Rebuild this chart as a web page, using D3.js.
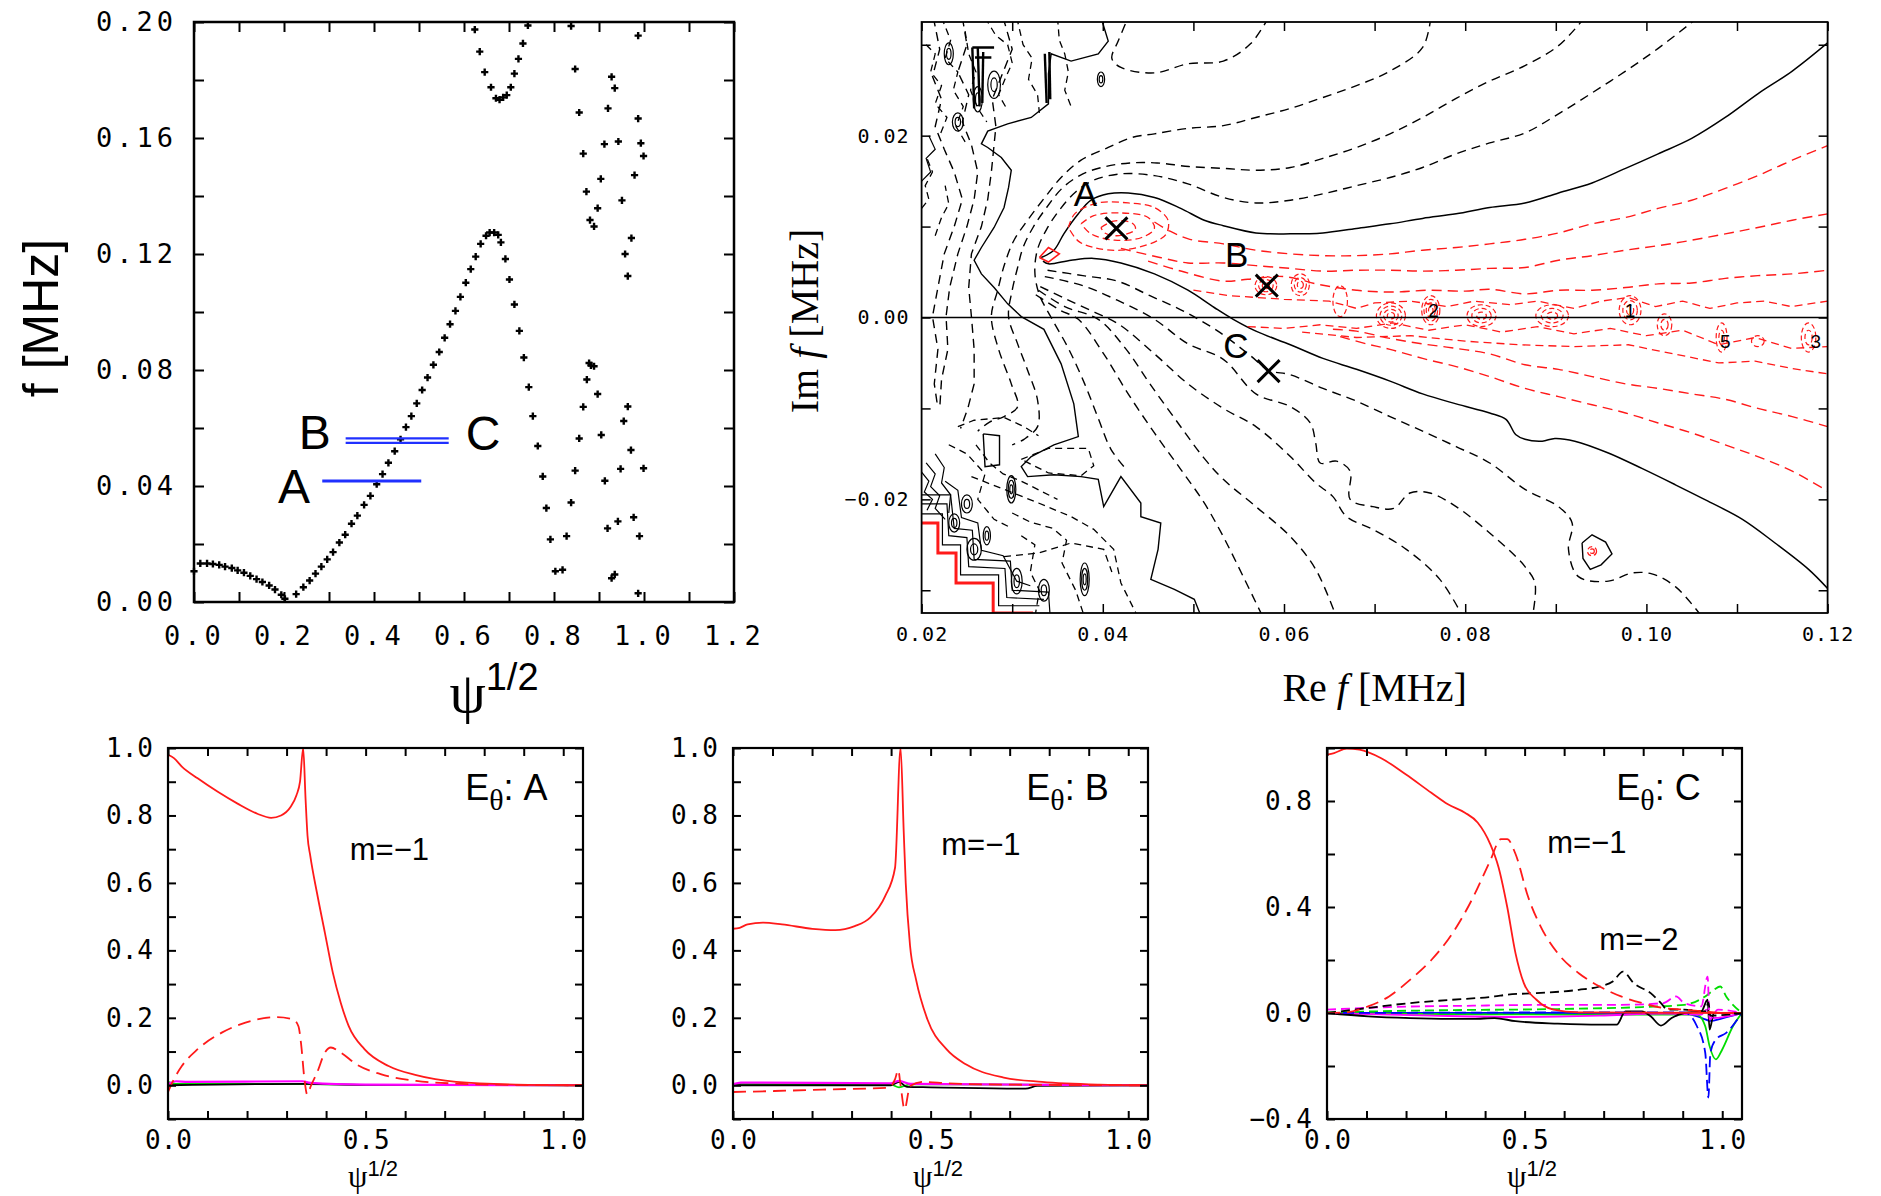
<!DOCTYPE html>
<html>
<head>
<meta charset="utf-8">
<title>Dispersion, complex-f contours and E_theta profiles</title>
<script src="https://cdn.jsdelivr.net/npm/d3@7"></script>
<style>
  body { margin: 0; background: #fff; }
  svg { display: block; }
</style>
</head>
<body>
<script>
// ---------- top left: continuum points, f [MHz] vs psi^(1/2) ----------
const mainPsi = [0, 0.014, 0.029, 0.042, 0.056, 0.069, 0.084, 0.097, 0.111, 0.125, 0.139, 0.152, 0.167, 0.180, 0.194, 0.202,
  0.227, 0.243, 0.257, 0.270, 0.283, 0.296, 0.309, 0.323, 0.336, 0.350, 0.363, 0.378, 0.392, 0.406, 0.419, 0.432, 0.446,
  0.459, 0.471, 0.483, 0.495, 0.507, 0.519, 0.532, 0.545, 0.557, 0.569, 0.581, 0.592, 0.604, 0.615, 0.626, 0.637, 0.649,
  0.657, 0.667, 0.676, 0.682, 0.692, 0.701, 0.712, 0.723, 0.733, 0.744, 0.753, 0.764, 0.775, 0.783, 0.792, 0.803];
const mainF = [0.0106, 0.0133, 0.0133, 0.0131, 0.0128, 0.0122, 0.0117, 0.0109, 0.0101, 0.0090, 0.0079, 0.0069, 0.0057, 0.0043, 0.0025, 0.0011,
  0.0027, 0.0051, 0.0074, 0.0098, 0.0122, 0.0147, 0.0172, 0.0205, 0.0232, 0.0270, 0.0298, 0.0335, 0.0366, 0.0406, 0.0441, 0.0480, 0.0520,
  0.0561, 0.0603, 0.0641, 0.0685, 0.0731, 0.0774, 0.0818, 0.0862, 0.0911, 0.0958, 0.1004, 0.1052, 0.1101, 0.1148, 0.1191, 0.1235, 0.1263,
  0.1274, 0.1274, 0.1266, 0.1240, 0.1183, 0.1112, 0.1026, 0.0935, 0.0843, 0.0741, 0.0641, 0.0538, 0.0433, 0.0324, 0.0216, 0.0106];
const upperPsi = [0.624, 0.635, 0.646, 0.660, 0.671, 0.679, 0.687, 0.695, 0.704, 0.712, 0.721, 0.731, 0.742];
const upperF = [0.1974, 0.1898, 0.1827, 0.1775, 0.1737, 0.1732, 0.1740, 0.1748, 0.1775, 0.1822, 0.1873, 0.1926, 0.1988];
const edgePsi = [0.838, 0.847, 0.856, 0.865, 0.872, 0.880, 0.889, 0.897, 0.904, 0.912, 0.920, 0.928, 0.935, 0.943, 0.951, 0.958,
  0.964, 0.972, 0.979, 0.987, 0.993, 0.999, 0.987,
  0.819, 0.828, 0.838, 0.847, 0.856, 0.865, 0.873, 0.878, 0.882, 0.889, 0.897, 0.905, 0.913, 0.919, 0.928, 0.935, 0.942,
  0.948, 0.955, 0.964, 0.971, 0.977, 0.990, 0.999, 0.987];
const edgeF = [0.1986, 0.1838, 0.1688, 0.1546, 0.1415, 0.1317, 0.1295, 0.1358, 0.1459, 0.1579, 0.1702, 0.1811, 0.1772, 0.1588, 0.1385, 0.1200,
  0.1124, 0.1255, 0.1472, 0.1667, 0.1582, 0.1538, 0.1953,
  0.0111, 0.0227, 0.0343, 0.0453, 0.0564, 0.0673, 0.0767, 0.0824, 0.0816, 0.0813, 0.0717, 0.0576, 0.0418, 0.0254, 0.0082, 0.0095, 0.0278,
  0.0459, 0.0624, 0.0674, 0.0524, 0.0292, 0.0227, 0.0461, 0.0030];
// frequencies of the three modes A, B, C and the extent of the blue bars
const modeNames = ['A', 'B', 'C'];
const modeFreq = [0.0417, 0.0564, 0.0549];
const modeFrom = [0.285, 0.337, 0.337];
const modeTo = [0.505, 0.566, 0.566];

// ---------- top right: contours in the complex f plane ([Re f, Im f] in MHz) ----------
const solidUpper = [[0.0332,0.0066],[0.0346,0.0074],[0.0357,0.0092],[0.0373,0.0114],[0.0387,0.0129],[0.0406,0.0136],[0.0428,0.0137],
  [0.0457,0.0132],[0.0486,0.0120],[0.0512,0.0107],[0.0533,0.0101],[0.0569,0.0093],[0.0607,0.0092],[0.0643,0.0093],[0.0680,0.0098],
  [0.0717,0.0103],[0.0753,0.0109],[0.0790,0.0114],[0.0827,0.0121],[0.0866,0.0126],[0.0903,0.0137],[0.0940,0.0148],[0.0977,0.0164],
  [0.1013,0.0180],[0.1050,0.0197],[0.1087,0.0220],[0.1123,0.0246],[0.1161,0.0271],[0.1200,0.0302]];
const solidLower = [[0.0334,0.0062],[0.0340,0.0059],[0.0365,0.0063],[0.0390,0.0065],[0.0420,0.0060],[0.0457,0.0048],[0.0494,0.0030],
  [0.0523,0.0011],[0.0544,-0.0002],[0.0569,-0.0015],[0.0607,-0.0030],[0.0643,-0.0045],[0.0680,-0.0057],[0.0717,-0.0070],[0.0753,-0.0084],
  [0.0790,-0.0095],[0.0827,-0.0105],[0.0845,-0.0112],[0.0856,-0.0129],[0.0866,-0.0134],[0.0885,-0.0136],[0.0899,-0.0133],[0.0921,-0.0136],
  [0.0958,-0.0149],[0.0995,-0.0166],[0.1032,-0.0184],[0.1068,-0.0202],[0.1106,-0.0222],[0.1142,-0.0248],[0.1179,-0.0277],[0.1200,-0.0298]];
const solidLeft = [[0.0398,0.0330],[0.0406,0.0304],[0.0395,0.0290],[0.0365,0.0282],[0.0343,0.0290],[0.0340,0.0268],[0.0340,0.0235],
  [0.0321,0.0220],[0.0295,0.0213],[0.0273,0.0205],[0.0266,0.0191],[0.0273,0.0187],[0.0288,0.0176],[0.0299,0.0162],[0.0296,0.0143],
  [0.0291,0.0121],[0.0280,0.0099],[0.0266,0.0077],[0.0258,0.0063],[0.0266,0.0048],[0.0280,0.0033],[0.0295,0.0015],[0.0310,0.0001],
  [0.0335,-0.0013],[0.0354,-0.0051],[0.0368,-0.0095],[0.0373,-0.0131],[0.0346,-0.0140],[0.0321,-0.0153],[0.0310,-0.0164],[0.0317,-0.0175],
  [0.0346,-0.0173],[0.0376,-0.0175],[0.0395,-0.0178],[0.0401,-0.0208],[0.0420,-0.0175],[0.0442,-0.0204],[0.0442,-0.0219],[0.0464,-0.0226],
  [0.0461,-0.0255],[0.0453,-0.0288],[0.0479,-0.0299],[0.0501,-0.0310],[0.0509,-0.0330]];
const solidBox = [[0.0268,-0.0128],[0.0286,-0.0130],[0.0286,-0.0162],[0.0270,-0.0164],[0.0268,-0.0128]];
const solidIsland = [[0.0929,-0.0248],[0.0940,-0.0239],[0.0955,-0.0247],[0.0962,-0.0260],[0.0950,-0.0272],[0.0938,-0.0277],[0.0930,-0.0265],[0.0929,-0.0248]];
const solidF = [[[0.0256,0.0297],[0.0258,0.0230]],[[0.0262,0.0297],[0.0264,0.0232]],[[0.0268,0.0292],[0.0267,0.0236]],
  [[0.0256,0.0297],[0.0280,0.0297]],[[0.0259,0.0286],[0.0277,0.0286]],[[0.0336,0.0290],[0.0338,0.0236]],[[0.0341,0.0292],[0.0342,0.0240]]];

const dashD = [[0.1057,0.0330],[0.1013,0.0296],[0.0977,0.0271],[0.0940,0.0247],[0.0903,0.0224],[0.0866,0.0203],[0.0827,0.0192],[0.0790,0.0180],
  [0.0753,0.0165],[0.0717,0.0154],[0.0680,0.0145],[0.0643,0.0136],[0.0607,0.0129],[0.0569,0.0126],[0.0533,0.0132],[0.0494,0.0147],
  [0.0457,0.0156],[0.0420,0.0158],[0.0390,0.0151],[0.0370,0.0138],[0.0352,0.0118],[0.0338,0.0097],[0.0328,0.0075],[0.0325,0.0050],
  [0.0330,0.0025],[0.0343,0.0000],[0.0362,-0.0034],[0.0380,-0.0073],[0.0395,-0.0111],[0.0409,-0.0145],[0.0425,-0.0166]];
const dashC = [[0.0932,0.0330],[0.0903,0.0299],[0.0866,0.0277],[0.0827,0.0260],[0.0790,0.0241],[0.0753,0.0220],[0.0717,0.0202],[0.0680,0.0187],
  [0.0643,0.0175],[0.0607,0.0165],[0.0569,0.0162],[0.0533,0.0164],[0.0495,0.0166],[0.0460,0.0170],[0.0430,0.0170],[0.0403,0.0166],
  [0.0378,0.0158],[0.0356,0.0143],[0.0338,0.0121],[0.0323,0.0099],[0.0312,0.0077],[0.0306,0.0055],[0.0300,0.0030],[0.0296,0.0001],
  [0.0306,-0.0029],[0.0317,-0.0058],[0.0328,-0.0091],[0.0328,-0.0120],[0.0313,-0.0134],[0.0300,-0.0140]];
const dashB = [[0.0762,0.0330],[0.0753,0.0297],[0.0717,0.0271],[0.0680,0.0255],[0.0643,0.0242],[0.0607,0.0230],[0.0569,0.0220],[0.0533,0.0211],
  [0.0494,0.0208],[0.0457,0.0202],[0.0432,0.0198],[0.0406,0.0187],[0.0376,0.0173],[0.0354,0.0154],[0.0336,0.0132],[0.0317,0.0107],
  [0.0302,0.0085],[0.0292,0.0060],[0.0284,0.0030],[0.0277,0.0001],[0.0285,-0.0035],[0.0299,-0.0073],[0.0306,-0.0098],[0.0291,-0.0109],
  [0.0275,-0.0115],[0.0262,-0.0125]];
const dashA = [[0.0583,0.0330],[0.0563,0.0301],[0.0533,0.0282],[0.0494,0.0279],[0.0457,0.0269],[0.0420,0.0275],[0.0410,0.0285],[0.0417,0.0304],[0.0428,0.0330]];
const dashL1 = [[0.0339,0.0052],[0.0378,0.0046],[0.0416,0.0040],[0.0452,0.0024],[0.0489,0.0007],[0.0527,-0.0015],[0.0563,-0.0042],[0.0583,-0.0058],
  [0.0607,-0.0063],[0.0643,-0.0078],[0.0680,-0.0092],[0.0717,-0.0109],[0.0753,-0.0125],[0.0790,-0.0142],[0.0827,-0.0160],[0.0866,-0.0189],
  [0.0903,-0.0208],[0.0918,-0.0226],[0.0914,-0.0255],[0.0925,-0.0285],[0.0958,-0.0290],[0.0984,-0.0281],[0.1006,-0.0282],[0.1032,-0.0296],[0.1062,-0.0330]];
const dashL2 = [[0.0336,0.0045],[0.0378,0.0035],[0.0416,0.0019],[0.0457,-0.0002],[0.0494,-0.0029],[0.0533,-0.0046],[0.0569,-0.0084],[0.0607,-0.0098],
  [0.0629,-0.0116],[0.0635,-0.0138],[0.0640,-0.0160],[0.0658,-0.0158],[0.0673,-0.0169],[0.0673,-0.0200],[0.0698,-0.0208],[0.0721,-0.0210],
  [0.0739,-0.0193],[0.0761,-0.0193],[0.0790,-0.0208],[0.0827,-0.0237],[0.0856,-0.0263],[0.0866,-0.0274],[0.0877,-0.0292],[0.0874,-0.0330]];
const dashL3 = [[0.0331,0.0034],[0.0358,0.0021],[0.0386,0.0008],[0.0417,-0.0007],[0.0457,-0.0040],[0.0494,-0.0073],[0.0533,-0.0100],[0.0569,-0.0120],
  [0.0607,-0.0153],[0.0635,-0.0182],[0.0654,-0.0197],[0.0669,-0.0219],[0.0698,-0.0233],[0.0735,-0.0255],[0.0772,-0.0288],[0.0798,-0.0330]];
const dashL4 = [[0.0329,0.0030],[0.0358,0.0012],[0.0395,-0.0002],[0.0425,-0.0034],[0.0452,-0.0073],[0.0483,-0.0116],[0.0512,-0.0155],[0.0533,-0.0178],
  [0.0569,-0.0208],[0.0607,-0.0241],[0.0635,-0.0277],[0.0658,-0.0330]];
const dashL5 = [[0.0326,0.0025],[0.0353,0.0008],[0.0373,-0.0002],[0.0401,-0.0040],[0.0428,-0.0084],[0.0457,-0.0127],[0.0486,-0.0167],[0.0512,-0.0204],
  [0.0533,-0.0241],[0.0555,-0.0285],[0.0577,-0.0330]];
const dashLeft1 = [[0.0213,0.0330],[0.0220,0.0295],[0.0212,0.0265],[0.0222,0.0240],[0.0215,0.0210],[0.0225,0.0185],[0.0236,0.0160],[0.0245,0.0130],
  [0.0236,0.0100],[0.0225,0.0070],[0.0218,0.0033],[0.0212,0.0001],[0.0218,-0.0035],[0.0214,-0.0073],[0.0218,-0.0100]];
const dashLeft2 = [[0.0245,0.0330],[0.0250,0.0300],[0.0240,0.0270],[0.0252,0.0245],[0.0245,0.0215],[0.0255,0.0190],[0.0262,0.0160],[0.0258,0.0130],
  [0.0250,0.0100],[0.0240,0.0070],[0.0231,0.0033],[0.0227,0.0001],[0.0229,-0.0035],[0.0222,-0.0068],[0.0220,-0.0100]];
const dashLeft3 = [[0.0290,0.0330],[0.0300,0.0295],[0.0288,0.0265],[0.0278,0.0240],[0.0282,0.0210],[0.0280,0.0190],[0.0277,0.0160],[0.0273,0.0130],
  [0.0266,0.0100],[0.0255,0.0070],[0.0252,0.0033],[0.0255,0.0001],[0.0258,-0.0035],[0.0258,-0.0073],[0.0251,-0.0100],[0.0243,-0.0122]];
const dashClutter = [
  [[0.0205,0.0300],[0.0215,0.0290],[0.0210,0.0270],[0.0222,0.0255],[0.0215,0.0235],[0.0228,0.0220],[0.0220,0.0200]],
  [[0.0222,0.0330],[0.0232,0.0305],[0.0226,0.0285],[0.0240,0.0270],[0.0235,0.0250],[0.0246,0.0232],[0.0238,0.0210],[0.0250,0.0190]],
  [[0.0248,0.0315],[0.0252,0.0290],[0.0260,0.0270],[0.0254,0.0250],[0.0262,0.0230],[0.0272,0.0215]],
  [[0.0270,0.0330],[0.0282,0.0310],[0.0295,0.0300],[0.0300,0.0280],[0.0292,0.0262],[0.0285,0.0245],[0.0295,0.0228]],
  [[0.0305,0.0330],[0.0312,0.0300],[0.0322,0.0285],[0.0318,0.0262],[0.0328,0.0245],[0.0330,0.0225]],
  [[0.0350,0.0330],[0.0352,0.0305],[0.0358,0.0290],[0.0362,0.0270],[0.0358,0.0250],[0.0365,0.0232]],
  [[0.0200,0.0120],[0.0208,0.0130],[0.0204,0.0145],[0.0212,0.0160],[0.0206,0.0175]],
  [[0.0215,0.0090],[0.0222,0.0110],[0.0230,0.0125],[0.0226,0.0145]],
  [[0.0310,-0.0156],[0.0340,-0.0144],[0.0384,-0.0144],[0.0390,-0.0163],[0.0376,-0.0174],[0.0340,-0.0171],[0.0310,-0.0156]],
  [[0.0255,-0.0175],[0.0291,-0.0189],[0.0329,-0.0204],[0.0365,-0.0219],[0.0390,-0.0233],[0.0412,-0.0255],[0.0420,-0.0292],[0.0439,-0.0330]],
  [[0.0291,-0.0263],[0.0329,-0.0259],[0.0365,-0.0248],[0.0401,-0.0255],[0.0410,-0.0280]],
  [[0.0240,-0.0120],[0.0258,-0.0113],[0.0291,-0.0110],[0.0313,-0.0120],[0.0329,-0.0130]],
  [[0.0230,-0.0140],[0.0250,-0.0150],[0.0270,-0.0172],[0.0262,-0.0200],[0.0280,-0.0222],[0.0300,-0.0232]],
  [[0.0260,-0.0140],[0.0275,-0.0160],[0.0290,-0.0172],[0.0310,-0.0180],[0.0330,-0.0190],[0.0350,-0.0200]],
  [[0.0300,-0.0215],[0.0320,-0.0225],[0.0345,-0.0232],[0.0360,-0.0245],[0.0355,-0.0270],[0.0370,-0.0300],[0.0380,-0.0330]],
  [[0.0310,-0.0240],[0.0325,-0.0250],[0.0320,-0.0280],[0.0330,-0.0300],[0.0325,-0.0330]]];
const solidClutter = [
  [[0.0200,-0.0216],[0.0223,-0.0216],[0.0223,-0.0250],[0.0243,-0.0250],[0.0243,-0.0283],[0.0285,-0.0283],[0.0285,-0.0317],[0.0330,-0.0317]],
  [[0.0200,-0.0205],[0.0228,-0.0205],[0.0230,-0.0240],[0.0250,-0.0242],[0.0252,-0.0274],[0.0292,-0.0276],[0.0294,-0.0308],[0.0335,-0.0310]],
  [[0.0200,-0.0195],[0.0232,-0.0195],[0.0236,-0.0232],[0.0256,-0.0234],[0.0258,-0.0266],[0.0298,-0.0268],[0.0300,-0.0300],[0.0340,-0.0302],[0.0342,-0.0330]],
  [[0.0226,-0.0180],[0.0240,-0.0190],[0.0244,-0.0220],[0.0262,-0.0226],[0.0266,-0.0256],[0.0290,-0.0262],[0.0305,-0.0290],[0.0320,-0.0295]],
  [[0.0200,-0.0170],[0.0208,-0.0180],[0.0203,-0.0192],[0.0212,-0.0200],[0.0206,-0.0212]],
  [[0.0205,-0.0160],[0.0215,-0.0172],[0.0210,-0.0186],[0.0220,-0.0196],[0.0215,-0.0210],[0.0226,-0.0222]],
  [[0.0215,-0.0150],[0.0225,-0.0165],[0.0222,-0.0182],[0.0232,-0.0195],[0.0230,-0.0215]],
  [[0.0200,0.0150],[0.0210,0.0160],[0.0205,0.0175],[0.0215,0.0185],[0.0208,0.0200]]];
// small closed islands: [Re centre, Im centre, Re half-width, Im half-height, rings]
const blackIslands = [[0.0299,-0.0189,0.0005,0.0015,3],[0.0380,-0.0288,0.0005,0.0018,3],[0.0258,-0.0255,0.0008,0.0012,2],
  [0.0236,-0.0226,0.0006,0.0010,2],[0.0250,-0.0205,0.0006,0.0010,2],[0.0280,0.0256,0.0007,0.0015,2],[0.0398,0.0262,0.0004,0.0008,2],
  [0.0335,-0.0300,0.0006,0.0012,2],[0.0262,0.0240,0.0005,0.0014,2],[0.0305,-0.0290,0.0006,0.0014,2],[0.0272,-0.0240,0.0004,0.0010,2],
  [0.0240,0.0215,0.0006,0.0010,2],[0.0230,0.0290,0.0005,0.0012,2]];

const redUpper1 = [[0.0457,0.0105],[0.0474,0.0095],[0.0496,0.0086],[0.0533,0.0081],[0.0569,0.0074],[0.0607,0.0070],[0.0643,0.0068],[0.0680,0.0068],
  [0.0717,0.0070],[0.0753,0.0074],[0.0790,0.0077],[0.0827,0.0081],[0.0866,0.0086],[0.0903,0.0093],[0.0940,0.0103],[0.0977,0.0110],
  [0.1013,0.0120],[0.1050,0.0129],[0.1087,0.0142],[0.1123,0.0156],[0.1161,0.0173],[0.1200,0.0189]];
const redUpper2 = [[0.0420,0.0076],[0.0463,0.0066],[0.0494,0.0060],[0.0533,0.0060],[0.0569,0.0057],[0.0607,0.0054],[0.0643,0.0051],[0.0680,0.0052],
  [0.0717,0.0052],[0.0753,0.0051],[0.0790,0.0052],[0.0827,0.0054],[0.0866,0.0055],[0.0903,0.0063],[0.0940,0.0068],[0.0977,0.0074],
  [0.1013,0.0079],[0.1050,0.0085],[0.1087,0.0092],[0.1123,0.0099],[0.1161,0.0107],[0.1200,0.0114]];
const redUpper3 = [[0.0450,0.0062],[0.0490,0.0050],[0.0533,0.0040],[0.0560,0.0042],[0.0600,0.0045],[0.0640,0.0036],[0.0680,0.0030],[0.0720,0.0028],
  [0.0760,0.0030],[0.0800,0.0029],[0.0827,0.0031],[0.0866,0.0026],[0.0903,0.0030],[0.0940,0.0030],[0.0977,0.0033],[0.1013,0.0037],
  [0.1050,0.0038],[0.1087,0.0043],[0.1123,0.0046],[0.1161,0.0048],[0.1200,0.0052]];
const redNearAxis1 = [[0.0500,0.0030],[0.0540,0.0024],[0.0600,0.0020],[0.0650,0.0018],[0.0680,0.0010],[0.0700,0.0016],[0.0740,0.0018],[0.0780,0.0012],
  [0.0810,0.0018],[0.0850,0.0014],[0.0880,0.0018],[0.0920,0.0010],[0.0950,0.0018],[0.0980,0.0022],[0.1010,0.0012],[0.1040,0.0018],
  [0.1070,0.0010],[0.1100,0.0016],[0.1130,0.0018],[0.1160,0.0012],[0.1200,0.0018]];
const redNearAxis2 = [[0.0560,-0.0010],[0.0600,-0.0012],[0.0640,-0.0008],[0.0680,-0.0012],[0.0720,-0.0006],[0.0760,-0.0014],[0.0800,-0.0008],
  [0.0840,-0.0016],[0.0880,-0.0010],[0.0920,-0.0018],[0.0960,-0.0012],[0.1000,-0.0020],[0.1040,-0.0014],[0.1080,-0.0030],[0.1120,-0.0022],
  [0.1160,-0.0034],[0.1200,-0.0032]];
const redNearAxis3 = [[0.0620,-0.0016],[0.0680,-0.0022],[0.0740,-0.0020],[0.0800,-0.0026],[0.0860,-0.0030],[0.0920,-0.0032],[0.0980,-0.0030],
  [0.1040,-0.0042],[0.1080,-0.0050],[0.1120,-0.0048],[0.1160,-0.0056],[0.1200,-0.0062]];
const redLower1 = [[0.0654,-0.0013],[0.0680,-0.0015],[0.0717,-0.0023],[0.0753,-0.0029],[0.0790,-0.0034],[0.0827,-0.0040],[0.0866,-0.0052],
  [0.0903,-0.0057],[0.0940,-0.0065],[0.0977,-0.0073],[0.1013,-0.0078],[0.1050,-0.0084],[0.1087,-0.0090],[0.1123,-0.0100],[0.1161,-0.0109],[0.1200,-0.0120]];
const redLower2 = [[0.0662,-0.0021],[0.0691,-0.0029],[0.0717,-0.0035],[0.0753,-0.0045],[0.0790,-0.0054],[0.0827,-0.0065],[0.0866,-0.0078],
  [0.0903,-0.0087],[0.0940,-0.0096],[0.0977,-0.0105],[0.1013,-0.0116],[0.1050,-0.0127],[0.1087,-0.0140],[0.1123,-0.0153],[0.1161,-0.0169],[0.1200,-0.0191]];
const redLobeOuter = [[0.0362,0.0099],[0.0369,0.0114],[0.0395,0.0126],[0.0428,0.0126],[0.0457,0.0121],[0.0472,0.0107],[0.0470,0.0092],
  [0.0457,0.0083],[0.0420,0.0074],[0.0390,0.0077],[0.0373,0.0084],[0.0362,0.0099]];
const redLobeMiddle = [[0.0376,0.0103],[0.0390,0.0112],[0.0420,0.0115],[0.0450,0.0110],[0.0457,0.0098],[0.0443,0.0088],[0.0413,0.0085],
  [0.0387,0.0092],[0.0376,0.0103]];
const redLobeInner = [[0.0398,0.0099],[0.0412,0.0106],[0.0432,0.0104],[0.0436,0.0097],[0.0418,0.0090],[0.0402,0.0093],[0.0398,0.0099]];
const redTip = [[0.0330,0.0066],[0.0340,0.0077],[0.0352,0.0070],[0.0340,0.0061],[0.0330,0.0066]];
const redStair = [[0.0200,-0.0226],[0.0218,-0.0226],[0.0218,-0.0259],[0.0238,-0.0259],[0.0238,-0.0292],[0.0279,-0.0292],[0.0279,-0.0325],[0.0323,-0.0325]];
const redIslands = [[0.0580,0.0035,0.0012,0.0010,3],[0.0618,0.0036,0.0010,0.0012,3],[0.0662,0.0018,0.0008,0.0017,1],[0.0718,0.0002,0.0016,0.0014,4],
  [0.0762,0.0008,0.0010,0.0016,4],[0.0818,0.0002,0.0016,0.0012,3],[0.0896,0.0002,0.0018,0.0012,3],[0.0982,0.0008,0.0012,0.0016,3],
  [0.1020,-0.0008,0.0008,0.0012,2],[0.1083,-0.0022,0.0006,0.0016,2],[0.1123,-0.0026,0.0007,0.0006,1],[0.1179,-0.0022,0.0008,0.0016,2],
  [0.0940,-0.0257,0.0005,0.0005,2]];
const levelTags = ['2', '1', '5', '3'];
const levelTagRe = [0.0765, 0.0982, 0.1087, 0.1187];
const levelTagIm = [0.0001, 0.0001, -0.0034, -0.0034];
const crossRe = [0.0415, 0.0581, 0.0583];
const crossIm = [0.0098, 0.0035, -0.0059];

// ---------- bottom: E_theta profiles, [psi^(1/2), amplitude] ----------
const aRedSolid = [[0,0.98],[0.015,0.97],[0.035,0.945],[0.075,0.91],[0.126,0.87],[0.176,0.835],[0.226,0.805],[0.261,0.793],[0.286,0.80],
  [0.31,0.825],[0.325,0.86],[0.334,0.9],[0.342,1.0],[0.348,0.85],[0.353,0.74],[0.36,0.68],[0.377,0.57],[0.397,0.452],[0.417,0.334],
  [0.437,0.245],[0.457,0.176],[0.497,0.107],[0.558,0.057],[0.628,0.030],[0.729,0.010],[0.88,0.002],[1.05,0]];
const aRedDash = [[0,-0.02],[0.015,0.018],[0.035,0.057],[0.075,0.107],[0.136,0.156],[0.196,0.186],[0.276,0.202],[0.317,0.195],[0.33,0.175],
  [0.337,0.12],[0.345,0.02],[0.352,-0.027],[0.362,0.0],[0.377,0.037],[0.397,0.097],[0.412,0.112],[0.437,0.097],[0.477,0.062],[0.538,0.033],
  [0.628,0.013],[0.729,0.005],[0.88,0.001],[1.05,0]];
const aMagenta = [[0,0.004],[0.02,0.012],[0.05,0.01],[0.34,0.012],[0.36,0.007],[0.5,0.002],[1.05,0]];
const aGreen = [[0,0.01],[0.02,0.004],[0.3,0.004],[0.5,0.001],[1.05,0]];
const aBlack = [[0,0],[0.35,0.004],[0.5,0.001],[1.05,0]];

const bRedSolid = [[0,0.464],[0.017,0.467],[0.037,0.477],[0.076,0.482],[0.124,0.477],[0.201,0.464],[0.259,0.46],[0.308,0.472],[0.347,0.497],
  [0.385,0.561],[0.41,0.645],[0.424,1.0],[0.432,0.75],[0.437,0.6],[0.448,0.413],[0.463,0.314],[0.492,0.195],[0.54,0.107],[0.589,0.062],
  [0.685,0.023],[0.782,0.01],[0.927,0.002],[1.05,0]];
const bRedDash = [[0,-0.02],[0.105,-0.017],[0.25,-0.012],[0.395,-0.007],[0.41,0.018],[0.418,0.045],[0.424,0.0],[0.434,-0.071],[0.448,-0.002],
  [0.482,0.01],[0.54,0.006],[0.685,0.002],[1.05,0]];
const bBlack = [[0,0],[0.4,0],[0.42,0.01],[0.44,-0.005],[0.5,-0.006],[0.74,-0.01],[0.77,-0.002],[1.05,0]];
const bMagenta = [[0,0.003],[0.02,0.008],[0.4,0.006],[0.42,0.013],[0.45,0.004],[1.05,0]];
const bGreen = [[0,0.004],[0.4,0.002],[0.42,-0.006],[0.45,0.003],[1.05,0]];

const cRedSolid = [[0,0.975],[0.018,0.981],[0.05,0.998],[0.082,0.994],[0.136,0.9625],[0.2,0.9],[0.264,0.831],[0.306,0.7875],[0.349,0.756],
  [0.381,0.719],[0.413,0.6375],[0.434,0.55],[0.456,0.4],[0.477,0.225],[0.498,0.1125],[0.53,0.05],[0.573,0.0125],[0.637,0.0025],[1.05,0]];
const cRedDash = [[0,0],[0.05,0.0025],[0.104,0.025],[0.157,0.0625],[0.21,0.125],[0.264,0.2],[0.317,0.3],[0.37,0.4375],[0.413,0.575],[0.44,0.656],
  [0.456,0.656],[0.477,0.6],[0.509,0.4375],[0.541,0.325],[0.584,0.225],[0.637,0.15],[0.69,0.1],[0.744,0.0625],[0.797,0.0375],[0.851,0.019],
  [0.904,0.0125],[0.957,0.006],[1.0,0],[1.05,0]];
const cBlackDash = [[0,0],[0.104,0.019],[0.21,0.0375],[0.317,0.05],[0.424,0.0625],[0.456,0.069],[0.53,0.075],[0.637,0.0875],[0.69,0.1],
  [0.723,0.119],[0.749,0.156],[0.776,0.1125],[0.819,0.075],[0.845,0.0375],[0.861,0.0125],[0.904,0.0125],[0.957,0.006],[0.965,0.04],[0.97,-0.01],[1.05,0]];
const cBlackSolid = [[0,0],[0.104,-0.0125],[0.21,-0.019],[0.37,-0.0225],[0.424,-0.019],[0.477,-0.031],[0.584,-0.04],[0.69,-0.044],[0.733,-0.044],
  [0.755,0.006],[0.797,0.006],[0.819,-0.0125],[0.845,-0.0475],[0.872,-0.019],[0.904,0],[0.947,0.006],[0.963,0.05],[0.968,-0.0625],[0.979,0],[1.05,0]];
const cMagentaDash = [[0,0.0125],[0.157,0.0225],[0.37,0.0275],[0.584,0.031],[0.744,0.031],[0.851,0.0375],[0.883,0.0625],[0.904,0.0375],
  [0.947,0.025],[0.963,0.1375],[0.968,-0.025],[0.989,0.0125],[1.05,0]];
const cMagentaSolid = [[0,0],[0.264,-0.01],[0.477,-0.015],[0.69,-0.01],[0.851,-0.0025],[0.947,-0.006],[0.96,0.0125],[0.975,-0.019],[1.05,0]];
const cGreenDash = [[0,0.0025],[0.264,0.01],[0.584,0.015],[0.797,0.0225],[0.904,0.031],[0.957,0.0625],[0.979,0.0875],[0.995,0.1],[1.01,0.0625],[1.05,0]];
const cGreenSolid = [[0,0],[0.37,-0.005],[0.797,-0.006],[0.936,-0.006],[0.957,-0.05],[0.968,-0.125],[0.984,-0.175],[1.0,-0.1375],[1.027,-0.05],[1.05,0]];
const cBlueDash = [[0,0],[0.904,0.0025],[0.936,-0.05],[0.957,-0.15],[0.965,-0.319],[0.97,-0.15],[0.984,-0.1],[1.01,-0.075],[1.05,0]];
const cBlueSolid = [[0,0],[0.9,0],[0.95,-0.02],[0.97,-0.03],[1.0,-0.02],[1.05,0]];

// ================= drawing =================
const MONO = '"DejaVu Sans Mono", monospace';
const SANS = '"Liberation Sans", Arial, sans-serif';
const SERIF = '"Liberation Serif", "Times New Roman", serif';
const RED = '#ff1a1a';

const svg = d3.select('body').append('svg').attr('width', 1881).attr('height', 1196);

function near(a, b) { return Math.abs(a - b) < 1e-9; }
function steps(a, b, s) { return d3.range(Math.round((b - a) / s) + 1).map(i => +(a + i * s).toFixed(6)); }

// frame with inward ticks on all four sides, labels only on bottom/left
function axes(g, x, y, o) {
  const w = x.range()[1], h = y.range()[0];
  const fx = d => o.xLab.some(v => near(v, d)) ? o.xFmt(d) : '';
  const fy = d => o.yLab.some(v => near(v, d)) ? o.yFmt(d) : '';
  const parts = [
    g.append('g').attr('transform', `translate(0,${h})`)
      .call(d3.axisBottom(x).tickValues(o.xTicks).tickSize(-o.tl).tickPadding(o.xPad).tickFormat(fx)),
    g.append('g').call(d3.axisTop(x).tickValues(o.xTicks).tickSize(-o.tl).tickFormat('')),
    g.append('g').call(d3.axisLeft(y).tickValues(o.yTicks).tickSize(-o.tl).tickPadding(o.yPad).tickFormat(fy)),
    g.append('g').attr('transform', `translate(${w},0)`)
      .call(d3.axisRight(y).tickValues(o.yTicks).tickSize(-o.tl).tickFormat(''))
  ];
  parts.forEach(a => {
    a.select('.domain').remove();
    a.selectAll('line').attr('stroke', '#000').attr('stroke-width', o.tw);
    a.selectAll('text').attr('fill', '#000')
      .style('font-family', MONO).style('font-size', o.fs + 'px').style('letter-spacing', (o.ls || 0) + 'px');
  });
  g.append('rect').attr('width', w).attr('height', h)
    .attr('fill', 'none').attr('stroke', '#000').attr('stroke-width', o.fw);
}

function psiLabel(g, cx, baseY, big, small, lift) {
  const t = g.append('text').attr('x', cx).attr('y', baseY).attr('text-anchor', 'middle').attr('fill', '#000');
  t.append('tspan').style('font-family', SERIF).style('font-size', big + 'px').text('\u03c8');
  t.append('tspan').style('font-family', SANS).style('font-size', small + 'px').attr('dy', -lift).text('1/2');
}

// ---------- top left ----------
{
  const g = svg.append('g').attr('transform', 'translate(194,22)');
  const x = d3.scaleLinear([0, 1.2], [0, 540]);
  const y = d3.scaleLinear([0, 0.2], [580, 0]);
  axes(g, x, y, { xTicks: steps(0, 1.2, 0.1), xLab: steps(0, 1.2, 0.2), xFmt: d3.format('.1f'),
    yTicks: steps(0, 0.2, 0.02), yLab: steps(0, 0.2, 0.04), yFmt: d3.format('.2f'),
    tl: 10, tw: 2, fw: 2.5, fs: 27, ls: 4, xPad: 24, yPad: 17 });

  const pts = [...d3.zip(mainPsi, mainF), ...d3.zip(upperPsi, upperF), ...d3.zip(edgePsi, edgeF)];
  g.append('g').selectAll('path').data(pts).join('path')
    .attr('d', 'M-3.6,0H3.6M0,-3.6V3.6')
    .attr('transform', d => `translate(${x(d[0])},${y(d[1])})`)
    .attr('stroke', '#000').attr('stroke-width', 2.4);

  g.append('g').selectAll('line').data(modeNames).join('line')
    .attr('x1', (d, i) => x(modeFrom[i])).attr('x2', (d, i) => x(modeTo[i]))
    .attr('y1', (d, i) => y(modeFreq[i])).attr('y2', (d, i) => y(modeFreq[i]))
    .attr('stroke', '#2030ff').attr('stroke-width', (d, i) => i === 0 ? 3 : 2.2);

  const lab = g.append('g').style('font-family', SANS).style('font-size', '48px').attr('fill', '#000');
  lab.append('text').attr('x', x(0.258)).attr('y', y(0.0341)).attr('text-anchor', 'end').text('A');
  lab.append('text').attr('x', x(0.304)).attr('y', y(0.0528)).attr('text-anchor', 'end').text('B');
  lab.append('text').attr('x', x(0.604)).attr('y', y(0.0524)).text('C');

  g.append('text').attr('transform', `translate(-136,296) rotate(-90)`).attr('text-anchor', 'middle')
    .style('font-family', SANS).style('font-size', '50px').attr('fill', '#000').text('f [MHz]');
  psiLabel(g, 300, 690, 58, 38, 22);
}

// ---------- top right: contour plot ----------
{
  const g = svg.append('g').attr('transform', 'translate(921.6,22)');
  const x = d3.scaleLinear([0.02, 0.12], [0, 906]);
  const y = d3.scaleLinear([-0.0325, 0.0325], [591, 0]);
  g.append('clipPath').attr('id', 'ctclip').append('rect').attr('width', 906).attr('height', 591);
  const body = g.append('g').attr('clip-path', 'url(#ctclip)');

  const smooth = d3.line().x(d => x(d[0])).y(d => y(d[1])).curve(d3.curveCatmullRom.alpha(0.5));
  const sharp = d3.line().x(d => x(d[0])).y(d => y(d[1]));

  function draw(list, gen, color, dash, width) {
    body.append('g').selectAll('path').data(list).join('path')
      .attr('d', gen).attr('fill', 'none').attr('stroke', color)
      .attr('stroke-width', width).attr('stroke-dasharray', dash);
  }
  function islands(list, color, dash, width) {
    const rows = list.flatMap(d => d3.range(1, d[4] + 1).map(k => [d[0], d[1], d[2] * k / d[4], d[3] * k / d[4]]));
    body.append('g').selectAll('ellipse').data(rows).join('ellipse')
      .attr('cx', d => x(d[0])).attr('cy', d => y(d[1]))
      .attr('rx', d => x(d[0] + d[2]) - x(d[0])).attr('ry', d => y(d[1] - d[3]) - y(d[1]))
      .attr('fill', 'none').attr('stroke', color).attr('stroke-width', width).attr('stroke-dasharray', dash);
  }

  draw([solidUpper, solidLower], smooth, '#000', null, 1.5);
  draw([solidLeft, solidBox, solidIsland], sharp, '#000', null, 1.4);
  draw(solidClutter, sharp, '#000', null, 1.2);
  draw(solidF, sharp, '#000', null, 2.4);
  draw([dashD, dashC, dashB, dashA, dashL1, dashL2, dashL3, dashL4, dashL5], smooth, '#000', '9,6', 1.4);
  draw([dashLeft1, dashLeft2, dashLeft3], sharp, '#000', '9,6', 1.4);
  draw(dashClutter, sharp, '#000', '7,5', 1.3);
  islands(blackIslands, '#000', null, 1.2);

  draw([redUpper1, redUpper2, redUpper3, redLower1, redLower2], smooth, RED, '10,6', 1.4);
  draw([redNearAxis1, redNearAxis2, redNearAxis3], sharp, RED, '8,5', 1.3);
  draw([redLobeOuter, redLobeMiddle, redLobeInner], smooth, RED, '7,4', 1.3);
  draw([redTip], sharp, RED, null, 1.6);
  islands(redIslands, RED, '5,3', 1.2);
  draw([redStair], sharp, RED, null, 3);

  // Im f = 0 line
  body.append('line').attr('x1', 0).attr('x2', 906).attr('y1', y(0)).attr('y2', y(0))
    .attr('stroke', '#000').attr('stroke-width', 1.4);

  body.append('g').selectAll('text').data(levelTags).join('text')
    .attr('x', (d, i) => x(levelTagRe[i])).attr('y', (d, i) => y(levelTagIm[i]))
    .attr('text-anchor', 'middle').style('font-family', SANS).style('font-size', '19px').attr('fill', '#000').text(d => d);

  body.append('g').selectAll('path').data(crossRe).join('path')
    .attr('d', 'M-11,-11L11,11M-11,11L11,-11')
    .attr('transform', (d, i) => `translate(${x(d)},${y(crossIm[i])})`)
    .attr('stroke', '#000').attr('stroke-width', 3);

  const lab = g.append('g').style('font-family', SANS).style('font-size', '35px').attr('fill', '#000');
  lab.append('text').attr('x', x(0.0368)).attr('y', y(0.0123)).text('A');
  lab.append('text').attr('x', x(0.0535)).attr('y', y(0.0055)).text('B');
  lab.append('text').attr('x', x(0.0533)).attr('y', y(-0.0045)).text('C');

  axes(g, x, y, { xTicks: steps(0.02, 0.12, 0.01), xLab: steps(0.02, 0.12, 0.02), xFmt: d3.format('.2f'),
    yTicks: steps(-0.03, 0.03, 0.01), yLab: [-0.02, 0, 0.02], yFmt: d3.format('.2f'),
    tl: 9, tw: 1.5, fw: 1.8, fs: 20, ls: 1, xPad: 14, yPad: 12 });

  const rl = g.append('text').attr('x', 453).attr('y', 679).attr('text-anchor', 'middle')
    .style('font-family', SERIF).style('font-size', '40px').attr('fill', '#000');
  rl.append('tspan').text('Re ');
  rl.append('tspan').style('font-style', 'italic').text('f');
  rl.append('tspan').text(' [MHz]');
  const il = g.append('text').attr('transform', 'translate(-104,299) rotate(-90)').attr('text-anchor', 'middle')
    .style('font-family', SERIF).style('font-size', '40px').attr('fill', '#000');
  il.append('tspan').text('Im ');
  il.append('tspan').style('font-style', 'italic').text('f');
  il.append('tspan').text(' [MHz]');
}

// ---------- bottom panels ----------
function profile(left, yDom, yTicks, yLab, curves, title, tags) {
  const g = svg.append('g').attr('transform', `translate(${left},748)`);
  const x = d3.scaleLinear([0, 1.05], [0, 415]);
  const y = d3.scaleLinear(yDom, [371, 0]);
  g.append('clipPath').attr('id', 'pc' + left).append('rect').attr('width', 415).attr('height', 371);
  const body = g.append('g').attr('clip-path', `url(#pc${left})`);
  const line = d3.line().x(d => x(d[0])).y(d => y(d[1])).curve(d3.curveMonotoneX);
  body.selectAll('path').data(curves).join('path')
    .attr('d', d => line(d.pts)).attr('fill', 'none').attr('stroke', d => d.color)
    .attr('stroke-width', d => d.w || 1.8).attr('stroke-dasharray', d => d.dash || null);

  axes(g, x, y, { xTicks: steps(0, 1.0, 0.1), xLab: [0, 0.5, 1.0], xFmt: d3.format('.1f'),
    yTicks: yTicks, yLab: yLab, yFmt: d3.format('.1f'),
    tl: 8, tw: 2, fw: 2.2, fs: 26, ls: 0, xPad: 12, yPad: 15 });

  const tt = g.append('text').attr('x', x(title[1])).attr('y', y(title[2])).attr('fill', '#000')
    .style('font-family', SANS).style('font-size', '36px');
  tt.append('tspan').text('E');
  tt.append('tspan').style('font-family', SERIF).style('font-size', '30px').attr('dy', 10).text('\u03b8');
  tt.append('tspan').attr('dy', -10).text(': ' + title[0]);
  tags.forEach(t => g.append('text').attr('x', x(t[1])).attr('y', y(t[2])).attr('fill', '#000')
    .style('font-family', SANS).style('font-size', '31px').text(t[0]));
  psiLabel(g, 205, 439, 31, 22, 11);
}

profile(168, [-0.1, 1.0], steps(-0.1, 1.0, 0.1), steps(0, 1.0, 0.2), [
  { pts: aGreen, color: '#00dd00' }, { pts: aBlack, color: '#000' }, { pts: aMagenta, color: '#ff00ff', w: 2.2 },
  { pts: aRedDash, color: RED, dash: '13,7' }, { pts: aRedSolid, color: RED }
], ['A', 0.752, 0.846], [['m=\u22121', 0.46, 0.668]]);

profile(733, [-0.1, 1.0], steps(-0.1, 1.0, 0.1), steps(0, 1.0, 0.2), [
  { pts: bGreen, color: '#00dd00' }, { pts: bBlack, color: '#000' }, { pts: bMagenta, color: '#ff00ff', w: 2.2 },
  { pts: bRedDash, color: RED, dash: '13,7' }, { pts: bRedSolid, color: RED }
], ['B', 0.742, 0.846], [['m=\u22121', 0.527, 0.683]]);

profile(1327, [-0.4, 1.0], steps(-0.4, 1.0, 0.2), steps(-0.4, 0.8, 0.4), [
  { pts: cBlueSolid, color: '#0000ff' }, { pts: cGreenSolid, color: '#00dd00' }, { pts: cMagentaSolid, color: '#ff00ff' },
  { pts: cBlackSolid, color: '#000' }, { pts: cGreenDash, color: '#00dd00', dash: '9,5' },
  { pts: cMagentaDash, color: '#ff00ff', dash: '9,5' }, { pts: cBlueDash, color: '#0000ff', dash: '11,5' },
  { pts: cBlackDash, color: '#000', dash: '9,5' }, { pts: cRedDash, color: RED, dash: '13,7' }, { pts: cRedSolid, color: RED }
], ['C', 0.732, 0.804], [['m=\u22121', 0.557, 0.604], ['m=\u22122', 0.689, 0.238]]);
</script>
</body>
</html>
